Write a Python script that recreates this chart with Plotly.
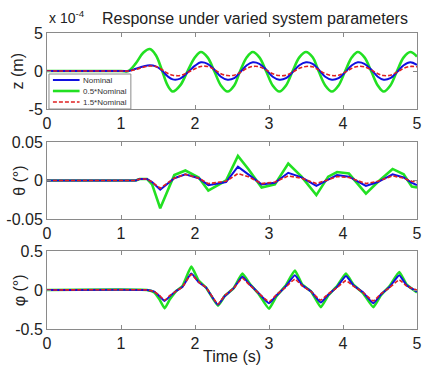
import plotly.graph_objects as go

# ---------------- data ----------------
series_names = ["Nominal", "0.5*Nominal", "1.5*Nominal"]

# z (m), in units of 1e-4
t_z = [0, 1.0, 1.1, 1.2, 1.3, 1.39, 1.47, 1.55, 1.63, 1.70, 1.80, 1.90, 2.00, 2.08, 2.17,
       2.26, 2.35, 2.44, 2.53, 2.61, 2.70, 2.78, 2.87, 2.96, 3.05, 3.14, 3.23, 3.32, 3.41,
       3.50, 3.59, 3.67, 3.76, 3.85, 3.94, 4.03, 4.12, 4.20, 4.29, 4.38, 4.47, 4.55, 4.64,
       4.73, 4.82, 4.91, 5.0]
z_nominal = [0, 0, 0, 0.3, 0.6, 0.75, 0.6, 0.1, -0.7, -1.1, -1.0, -0.2, 0.7, 1.15, 0.95,
             0.2, -0.75, -1.15, -0.95, -0.15, 0.75, 1.15, 0.95, 0.2, -0.75, -1.15, -0.95, -0.15,
             0.75, 1.15, 0.95, 0.2, -0.75, -1.15, -0.95, -0.15, 0.75, 1.15, 0.95, 0.2, -0.75,
             -1.15, -0.95, -0.15, 0.75, 1.15, 0.8]
z_half = [0, 0, 0, 1.0, 2.4, 2.9, 2.1, 0.2, -1.9, -2.7, -1.9, 0, 1.8, 2.5, 1.8,
          0, -1.9, -2.7, -1.9, 0, 1.8, 2.5, 1.8, 0, -1.9, -2.7, -1.9, 0, 1.8,
          2.5, 1.8, 0, -1.9, -2.7, -1.9, 0, 1.8, 2.5, 1.8, 0, -1.9, -2.7, -1.9,
          0, 1.8, 2.5, 1.9]
z_onehalf = [0, 0, 0, 0.2, 0.5, 0.65, 0.6, 0.2, -0.3, -0.55, -0.6, -0.2, 0.3, 0.6, 0.6,
             0.2, -0.35, -0.6, -0.55, -0.2, 0.35, 0.6, 0.55, 0.15, -0.35, -0.6, -0.55, -0.15,
             0.35, 0.6, 0.55, 0.15, -0.35, -0.6, -0.55, -0.15, 0.35, 0.6, 0.55, 0.15, -0.35,
             -0.6, -0.55, -0.15, 0.35, 0.6, 0.55]

# theta (deg)
t_th = [0, 1.2, 1.25, 1.35, 1.42, 1.53, 1.72, 1.87, 2.05, 2.18, 2.42, 2.58, 2.72, 2.90,
        3.08, 3.26, 3.44, 3.64, 3.80, 3.92, 4.08, 4.31, 4.47, 4.67, 4.82, 4.93, 5.0]
th_nominal = [0, 0, 0.002, 0.002, -0.002, -0.012, 0.003, 0.008, 0.003, -0.006, -0.002, 0.018,
              0.008, -0.005, -0.003, 0.010, 0.004, -0.007, 0.001, 0.007, 0.005, -0.007, -0.002,
              0.008, 0.004, -0.003, -0.006]
th_half = [0, 0, 0.002, 0.002, -0.005, -0.036, 0.007, 0.013, 0.004, -0.013, 0.000, 0.032,
           0.015, -0.009, -0.005, 0.022, 0.005, -0.019, 0.005, 0.011, 0.009, -0.017, -0.002,
           0.015, 0.008, -0.008, -0.009]
th_onehalf = [0, 0, 0.002, 0.002, -0.002, -0.010, 0.003, 0.008, 0.003, -0.004, -0.001, 0.009,
              0.005, -0.004, -0.002, 0.006, 0.003, -0.004, 0.001, 0.005, 0.004, -0.004, -0.001,
              0.006, 0.003, -0.001, -0.002]

# phi (deg)
t_ph = [0, 1.35, 1.45, 1.52, 1.59, 1.66, 1.75, 1.83, 1.95, 2.05, 2.15, 2.31, 2.40, 2.52,
        2.64, 2.74, 2.86, 3.00, 3.10, 3.22, 3.35, 3.45, 3.57, 3.70, 3.80, 3.92, 4.04, 4.14,
        4.27, 4.41, 4.51, 4.63, 4.76, 4.86, 5.0]
ph_nominal = [0, 0, -0.02, -0.08, -0.14, -0.08, -0.01, 0.04, 0.21, 0.10, 0.03, -0.19, -0.08,
              0.02, 0.17, 0.07, -0.04, -0.17, -0.07, 0.04, 0.19, 0.06, -0.02, -0.16, -0.06,
              0.04, 0.18, 0.06, -0.03, -0.17, -0.06, 0.04, 0.19, 0.06, -0.02]
ph_half = [0, 0, -0.03, -0.12, -0.235, -0.12, -0.01, 0.05, 0.30, 0.12, 0.03, -0.20, -0.08,
           0.02, 0.21, 0.08, -0.05, -0.24, -0.08, 0.05, 0.25, 0.07, -0.02, -0.22, -0.07,
           0.05, 0.21, 0.07, -0.04, -0.22, -0.07, 0.05, 0.23, 0.07, -0.03]
ph_onehalf = [0, 0, -0.02, -0.07, -0.13, -0.07, -0.01, 0.04, 0.20, 0.10, 0.03, -0.18, -0.07,
              0.02, 0.15, 0.06, -0.04, -0.15, -0.06, 0.03, 0.14, 0.05, -0.02, -0.13, -0.05,
              0.03, 0.12, 0.05, -0.03, -0.14, -0.05, 0.03, 0.13, 0.05, 0.0]

x_ticks = [0, 1, 2, 3, 4, 5]
z_ticks = [-5, 0, 5]
th_ticks = [-0.05, 0, 0.05]
ph_ticks = [-0.5, 0, 0.5]

# ---------------- figure ----------------
BLUE = "#1010e0"
GREEN = "#22e022"
RED = "#e02020"
FONT = "Liberation Sans, Arial, sans-serif"
W, H = 427, 365
ML, MR, MT, MB = 47, 5, 33, 36
PW, PH = W - ML - MR, H - MT - MB


def px(xp):
    return (xp - ML) / PW


def py(yp):
    return (H - MB - yp) / PH


fig = go.Figure()

styles = [
    dict(color=BLUE, width=2, dash="solid"),
    dict(color=GREEN, width=2.6, dash="solid"),
    dict(color=RED, width=1.6, dash="4px,2px"),
]

panels = [
    ("y", t_z, [z_nominal, z_half, z_onehalf], "spline"),
    ("y2", t_th, [th_nominal, th_half, th_onehalf], "linear"),
    ("y3", t_ph, [ph_nominal, ph_half, ph_onehalf], "spline"),
]
draw_order = [1, 0, 2]
for pi, (yref, tt, ys, shape) in enumerate(panels):
    xref = "x" if pi == 0 else "x%d" % (pi + 1)
    for si in draw_order:
        fig.add_trace(go.Scatter(
            x=tt, y=ys[si], mode="lines", name=series_names[si],
            line=dict(color=styles[si]["color"], width=styles[si]["width"],
                      dash=styles[si]["dash"], shape=shape,
                      smoothing=(1.0 if pi == 0 else 0.4) if shape == "spline" else None),
            xaxis=xref, yaxis=yref, showlegend=False, hoverinfo="skip",
        ))

axis_common = dict(
    showgrid=False, zeroline=False, showline=True, linecolor="#8a8a8a", linewidth=1,
    mirror="ticks", ticks="inside", ticklen=4, tickcolor="#8a8a8a",
    tickfont=dict(family=FONT, size=16, color="#222"),
)

doms = [[py(109), py(33)], [py(219), py(142)], [py(329), py(251)]]
ytks = [z_ticks, th_ticks, ph_ticks]
ylab = [["-5", "0", "5"], ["-0.05", "0", "0.05"], ["-0.5", "0", "0.5"]]
yr = [[-5, 5], [-0.05, 0.05], [-0.5, 0.5]]

layout = dict(
    width=W, height=H,
    margin=dict(l=ML, r=MR, t=MT, b=MB),
    paper_bgcolor="white", plot_bgcolor="white",
    showlegend=False,
)
for i in range(3):
    xk = "xaxis" if i == 0 else "xaxis%d" % (i + 1)
    yk = "yaxis" if i == 0 else "yaxis%d" % (i + 1)
    layout[xk] = dict(axis_common, domain=[0, 1], range=[0, 5], tickvals=x_ticks,
                      ticktext=[str(v) for v in x_ticks],
                      anchor="y" if i == 0 else "y%d" % (i + 1))
    layout[yk] = dict(axis_common, domain=doms[i], range=yr[i], tickvals=ytks[i],
                      ticktext=ylab[i], anchor="x" if i == 0 else "x%d" % (i + 1))
fig.update_layout(**layout)

# ---- legend (drawn box, inside top panel, bottom-left) ----
fig.add_shape(type="rect", xref="paper", yref="paper",
              x0=px(49), x1=px(132), y0=py(109), y1=py(74),
              fillcolor="white", line=dict(color="#8a8a8a", width=1), layer="above")
leg_rows = [80, 91, 102]
for si, yrow in enumerate(leg_rows):
    fig.add_shape(type="line", xref="paper", yref="paper",
                  x0=px(53), x1=px(80), y0=py(yrow), y1=py(yrow),
                  line=dict(color=styles[si]["color"], width=styles[si]["width"],
                            dash=styles[si]["dash"]), layer="above")
    fig.add_annotation(text=series_names[si], xref="paper", yref="paper",
                       x=px(81), y=py(yrow), xanchor="left", yanchor="middle",
                       showarrow=False, font=dict(family=FONT, size=8, color="#333"))

ann_font = dict(family=FONT, size=16, color="#222")
fig.add_annotation(text="Response under varied system parameters", xref="paper", yref="paper",
                   x=px(258), y=py(18), xanchor="center", yanchor="middle", showarrow=False,
                   font=ann_font)
fig.add_annotation(text="x 10<sup>-4</sup>", xref="paper", yref="paper",
                   x=0.0, y=py(17), xanchor="left", yanchor="middle", showarrow=False,
                   font=dict(family=FONT, size=14, color="#222"))
fig.add_annotation(text="Time (s)", xref="paper", yref="paper",
                   x=px(234), y=py(356), xanchor="center", yanchor="middle", showarrow=False,
                   font=ann_font)
for lbl, dom, xc in zip(["z (m)", "θ (°)", "φ (°)"], doms, [17, 19, 19]):
    fig.add_annotation(text=lbl, xref="paper", yref="paper",
                       x=px(xc), y=(dom[0] + dom[1]) / 2, xanchor="center", yanchor="middle",
                       textangle=-90, showarrow=False, font=ann_font)

fig.write_html("out.html")
